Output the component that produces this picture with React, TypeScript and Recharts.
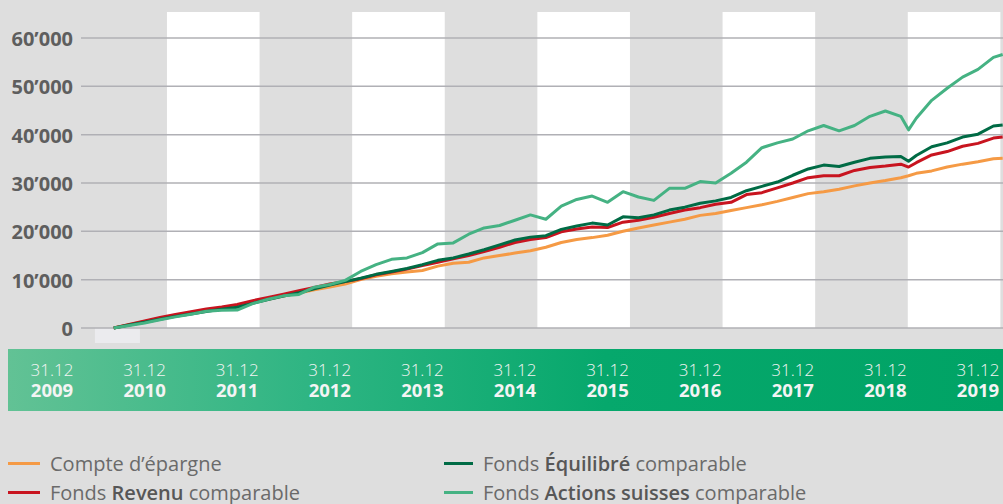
import { LineChart, Line, XAxis, YAxis, ReferenceArea, ReferenceLine } from "recharts";

// months after 31.12.2009, values in CHF thousands
const MONTHS = [
  8, 10, 12, 14, 16, 18, 20, 22, 24, 26, 28, 30, 32, 34, 36, 38, 40, 42, 44, 46,
  48, 50, 52, 54, 56, 58, 60, 62, 64, 66, 68, 70, 72, 74, 76, 78, 80, 82, 84, 86,
  88, 90, 92, 94, 96, 98, 100, 102, 104, 106, 108, 110, 111, 112, 114, 116, 118, 120, 122, 123.2,
];
const EPARGNE = [
  0, 0.7, 1.35, 2.0, 2.6, 3.15, 3.7, 4.2, 4.7, 5.3, 5.95, 6.6, 7.25, 7.9, 8.5, 9.1, 10.0, 10.7, 11.2, 11.6,
  11.9, 12.8, 13.4, 13.6, 14.5, 15.0, 15.5, 16.0, 16.7, 17.7, 18.3, 18.7, 19.2, 20.0, 20.7, 21.3, 21.9, 22.5, 23.3, 23.7,
  24.3, 24.9, 25.5, 26.2, 27.0, 27.8, 28.2, 28.7, 29.4, 30.0, 30.5, 31.1, 31.5, 32.0, 32.5, 33.3, 33.9, 34.4, 35.0, 35.1,
];
const REVENU = [
  0, 0.72, 1.44, 2.16, 2.79, 3.36, 3.92, 4.35, 4.86, 5.65, 6.3, 6.98, 7.71, 8.41, 9.1, 9.6, 10.2, 11.0, 11.6, 12.2,
  12.9, 13.6, 14.3, 15.0, 15.8, 16.7, 17.7, 18.3, 18.7, 19.9, 20.5, 20.9, 20.8, 21.9, 22.3, 22.9, 23.7, 24.4, 24.9, 25.6,
  26.0, 27.6, 28.0, 29.0, 30.0, 31.1, 31.5, 31.5, 32.6, 33.2, 33.5, 33.9, 33.3, 34.2, 35.8, 36.5, 37.6, 38.2, 39.3, 39.5,
];
const EQUILIBRE = [
  0, 0.6, 1.2, 1.8, 2.4, 2.9, 3.4, 3.9, 4.3, 5.1, 5.9, 6.6, 7.3, 8.1, 8.9, 9.6, 10.3, 11.1, 11.7, 12.3,
  13.1, 14.0, 14.5, 15.3, 16.2, 17.2, 18.2, 18.8, 19.1, 20.4, 21.1, 21.7, 21.3, 23.0, 22.8, 23.4, 24.4, 25.0, 25.8, 26.3,
  27.0, 28.4, 29.3, 30.2, 31.6, 32.9, 33.7, 33.4, 34.3, 35.1, 35.4, 35.5, 34.5, 35.7, 37.5, 38.3, 39.5, 40.1, 41.8, 42.0,
];
const ACTIONS = [
  0, 0.5, 1.05, 1.7, 2.3, 2.85, 3.45, 3.65, 3.7, 5.05, 5.95, 6.65, 6.95, 8.45, 9.0, 9.85, 11.7, 13.1, 14.2, 14.5,
  15.6, 17.4, 17.6, 19.4, 20.7, 21.2, 22.3, 23.4, 22.5, 25.2, 26.6, 27.3, 26.0, 28.2, 27.1, 26.4, 28.9, 28.9, 30.3, 30.0,
  32.0, 34.3, 37.3, 38.3, 39.1, 40.8, 41.9, 40.8, 41.9, 43.8, 44.9, 43.8, 41.0, 43.4, 47.1, 49.6, 51.9, 53.5, 56.0, 56.6,
];

const YEAR_TICKS = [0, 12, 24, 36, 48, 60, 72, 84, 96, 108, 120];
const YEAR_LABELS = ["2009", "2010", "2011", "2012", "2013", "2014", "2015", "2016", "2017", "2018", "2019"];
const Y_TICKS = [0, 10, 20, 30, 40, 50, 60];
const BAND_STARTS = [14.9, 38.9, 62.9, 86.9, 110.9];
const BAND_WIDTH = 12;
const X_DOMAIN: [number, number] = [-5.7, 123.24];
const Y_DOMAIN: [number, number] = [-4.14, 65.38];
const GRID_START = 3.76;

const SERIES = [
  { key: "epargne", color: "#f59a45", label: ["Compte d’épargne", "", ""] },
  { key: "revenu", color: "#c8141f", label: ["Fonds ", "Revenu", " comparable"] },
  { key: "equilibre", color: "#006b45", label: ["Fonds ", "Équilibré", " comparable"] },
  { key: "actions", color: "#45b283", label: ["Fonds ", "Actions suisses", " comparable"] },
];

const data = MONTHS.map((m, i) => ({
  m,
  epargne: EPARGNE[i],
  revenu: REVENU[i],
  equilibre: EQUILIBRE[i],
  actions: ACTIONS[i],
}));

const FONT = "'Open Sans', sans-serif";

const YearTick = ({ x, y, payload }: any) => {
  const label = YEAR_LABELS[YEAR_TICKS.indexOf(payload.value)];
  return (
    <g fontFamily={FONT} fill="#f4f4f4" textAnchor="middle">
      <text x={x} y={y + 28} fontSize={17} fontWeight={300}>
        31.12
      </text>
      <text x={x} y={y + 49} fontSize={18.5} fontWeight={700}>
        {label}
      </text>
    </g>
  );
};

const ValueTick = ({ y, payload }: any) => (
  <text
    x={73}
    y={y}
    dy="0.4em"
    textAnchor="end"
    fontFamily={FONT}
    fontSize={20}
    fontWeight={700}
    fill="#5e5e5e"
  >
    {payload.value === 0 ? "0" : `${payload.value}’000`}
  </text>
);

function LegendItem({ s, left, top, lineW }: any) {
  return (
    <div style={{ position: "absolute", left, top, display: "flex", alignItems: "center", height: 28 }}>
      <span style={{ display: "inline-block", width: lineW, height: 3, background: s.color, marginRight: 10 }} />
      <span style={{ fontFamily: FONT, fontSize: 20, color: "#6a6a6a", whiteSpace: "pre" }}>
        {s.label[0]}
        <span style={{ color: "#575757", fontWeight: 600 }}>{s.label[1]}</span>
        {s.label[2]}
      </span>
    </div>
  );
}

export default function App() {
  return (
    <div style={{ position: "absolute", left: 0, top: 0, width: 1003, height: 504, background: "#dedede", overflow: "hidden" }}>
      <div
        style={{
          position: "absolute",
          left: 8,
          top: 349,
          width: 995,
          height: 62,
          background: "linear-gradient(90deg, #62c295 0%, #2fb583 30%, #06a86c 60%, #00a365 100%)",
        }}
      />
      <div style={{ position: "absolute", left: 0, top: 0 }}>
        <LineChart width={1003} height={411} data={data} margin={{ top: 12, right: 0, bottom: 0, left: 0 }}>
          <XAxis
            dataKey="m"
            type="number"
            domain={X_DOMAIN}
            allowDataOverflow
            ticks={YEAR_TICKS}
            height={63}
            axisLine={false}
            tickLine={false}
            tickSize={0}
            tickMargin={0}
            tick={<YearTick />}
          />
          <YAxis
            type="number"
            domain={Y_DOMAIN}
            allowDataOverflow
            ticks={Y_TICKS}
            width={8}
            axisLine={false}
            tickLine={false}
            tickSize={0}
            tickMargin={0}
            tick={(props: any) => <ValueTick {...props} />}
          />
          {BAND_STARTS.map((b) => (
            <ReferenceArea
              key={b}
              x1={b}
              x2={Math.min(b + BAND_WIDTH, X_DOMAIN[1])}
              y1={0}
              y2={Y_DOMAIN[1]}
              fill="#ffffff"
              fillOpacity={1}
              stroke="none"
              ifOverflow="hidden"
            />
          ))}
          <ReferenceArea x1={5.57} x2={11.4} y1={-3.1} y2={0} fill="#ebebee" fillOpacity={1} stroke="none" />
          {Y_TICKS.map((t) => (
            <ReferenceLine
              key={t}
              segment={[
                { x: GRID_START, y: t },
                { x: X_DOMAIN[1], y: t },
              ]}
              stroke="#b0b0b5"
              strokeWidth={1.5}
            />
          ))}
          {SERIES.map((s) => (
            <Line
              key={s.key}
              dataKey={s.key}
              type="linear"
              stroke={s.color}
              strokeWidth={3}
              dot={false}
              strokeLinejoin="round"
              isAnimationActive={false}
            />
          ))}
        </LineChart>
      </div>
      <LegendItem s={SERIES[0]} left={8} top={449} lineW={32} />
      <LegendItem s={SERIES[1]} left={8} top={478} lineW={32} />
      <LegendItem s={SERIES[2]} left={444} top={449} lineW={29} />
      <LegendItem s={SERIES[3]} left={444} top={478} lineW={29} />
    </div>
  );
}
